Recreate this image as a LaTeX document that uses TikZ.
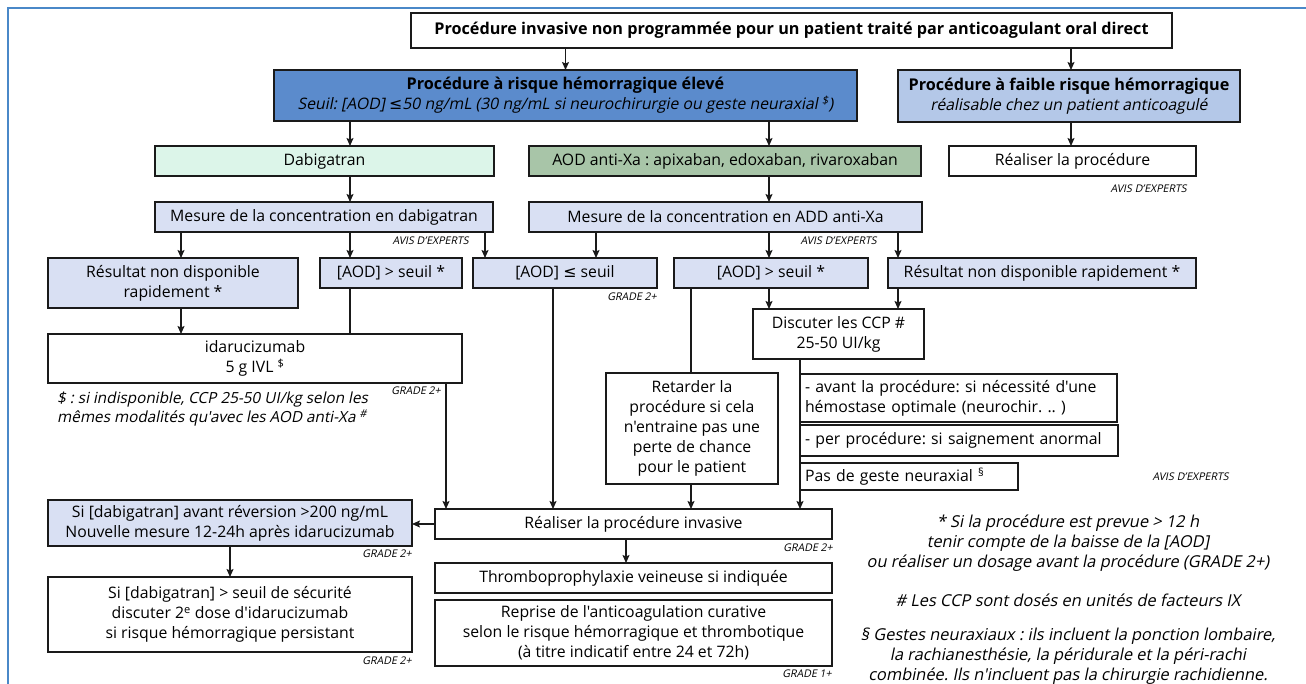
\documentclass[tikz,border=0pt]{standalone}
\usepackage{fontspec}
\setmainfont{Open Sans}[Ligatures=TeXOff, ItalicFont={Open Sans}, ItalicFeatures={FakeSlant=0.2}]
\newfontfamily\symfont{DejaVu Sans}
\usetikzlibrary{arrows.meta}

\definecolor{frameblue}{HTML}{4A88C8}
\definecolor{highblue}{HTML}{5B8BCC}
\definecolor{lowblue}{HTML}{B4C8E8}
\definecolor{lavender}{HTML}{D9E0F3}
\definecolor{mint}{HTML}{DCF5E9}
\definecolor{sage}{HTML}{A8C5A8}
\definecolor{ink}{HTML}{1A1A1A}

% box given by its corners: name, x1, y1, x2, y2, style, text
\newcommand\bx[7]{%
  \node[#6, minimum width={(#4)-(#2)}, minimum height={(#5)-(#3)}]
    (#1) at ({((#2)+(#4))/2},{((#3)+(#5))/2}) {#7};}
\newcommand\hd{\fontsize{16.2}{20}\selectfont\bfseries}

\tikzset{
  base/.style={draw=ink, line width=1.3pt, inner sep=2pt, outer sep=0pt,
    align=center, font=\fontsize{15.8}{20}\selectfont},
  plain/.style={base, fill=white},
  lav/.style={base, fill=lavender},
  hb/.style={base, fill=highblue},
  lb/.style={base, fill=lowblue},
  mintbox/.style={base, fill=mint},
  sagebox/.style={base, fill=sage},
  leftbox/.style={base, fill=white, align=left},
  arr/.style={draw=ink, line width=1.2pt, -{Stealth[length=8pt,width=7pt,inset=1.5pt]}},
  link/.style={draw=ink, line width=1.2pt},
  tag/.style={font=\fontsize{10.6}{11}\selectfont\itshape, anchor=east, inner sep=0pt},
  note/.style={font=\fontsize{16.4}{20}\selectfont\itshape, align=center, inner sep=0pt},
}

\begin{document}
\frenchspacing
\begin{tikzpicture}[x=1pt,y=-1pt]
\useasboundingbox (0,0) rectangle (1306,684);
\draw[frameblue, line width=1.6pt] (8,690) -- (8,8) -- (1310,8);

% columns used by the connectors
\coordinate (cA) at (181,0);
\coordinate (cB) at (350,0);
\coordinate (cC) at (485,0);
\coordinate (cD) at (446,0);
\coordinate (cE) at (553,0);
\coordinate (cF) at (596,0);
\coordinate (cG) at (691,0);
\coordinate (cH) at (769,0);
\coordinate (cI) at (898,0);
\coordinate (cJ) at (800,0);
\coordinate (cL) at (1071,0);
\coordinate (cN) at (626,0);

\bx{top}{411}{13}{1172}{48}{plain}{\hd Procédure invasive non programmée pour un patient traité par anticoagulant oral direct}
\bx{high}{274}{70}{857}{121}{hb}{{\hd Procédure à risque hémorragique élevé}\\{\itshape Seuil: [AOD] {\symfont ≤}50 ng/mL (30 ng/mL si neurochirurgie ou geste neuraxial \textsuperscript{\$})}}
\bx{low}{898}{70}{1240}{122}{lb}{{\hd Procédure à faible risque hémorragique}\\{\itshape réalisable chez un patient anticoagulé}}

\bx{dab}{155}{146}{494}{176}{mintbox}{Dabigatran}
\bx{axa}{529}{146}{921}{176}{sagebox}{AOD anti-Xa : apixaban, edoxaban, rivaroxaban}
\bx{lowdo}{949}{146}{1196}{176}{plain}{Réaliser la procédure}

\bx{mdab}{155}{202}{493}{232}{lav}{Mesure de la concentration en dabigatran}
\bx{maxa}{529}{202}{922}{232}{lav}{Mesure de la concentration en ADD anti-Xa}

\bx{resL}{48}{258}{298}{308}{lav}{Résultat non disponible\\rapidement *}
\bx{supL}{320}{258}{462}{288}{lav}{[AOD] > seuil *}
\bx{leq}{473}{258}{657}{288}{lav}{[AOD] {\symfont ≤} seuil}
\bx{supR}{674}{258}{868}{288}{lav}{[AOD] > seuil *}
\bx{resR}{888}{258}{1196}{288}{lav}{Résultat non disponible rapidement *}

\bx{ida}{48}{334}{462}{383}{plain}{idarucizumab\\5 g IVL \textsuperscript{\$}}
\bx{disc}{753}{309}{924}{359}{plain}{Discuter les CCP \#\\25-50 UI/kg}
\bx{retard}{606}{373}{778}{484}{plain}{Retarder la\\procédure si cela\\n'entraine pas une\\perte de chance\\pour le patient}

\bx{avant}{800}{374}{1117}{422}{leftbox, text width=307pt}{- avant la procédure: si nécessité d'une\\hémostase optimale (neurochir. .. )}
\bx{per}{800}{425}{1118}{456}{leftbox, text width=308pt}{- per procédure: si saignement anormal}
\bx{pas}{800}{463}{1018}{490}{leftbox, text width=208pt}{Pas de geste neuraxial \textsuperscript{§}}

\bx{real}{435}{509}{832}{539}{plain}{Réaliser la procédure invasive}
\bx{siL}{48}{500}{412}{546}{lav}{Si [dabigatran] avant réversion >200 ng/mL\\Nouvelle mesure 12-24h après idarucizumab}
\bx{si2}{48}{577}{412}{652}{plain}{Si [dabigatran] > seuil de sécurité\\discuter 2\textsuperscript{e} dose d'idarucizumab\\si risque hémorragique persistant}
\bx{thrombo}{435}{563}{832}{593}{plain}{Thromboprophylaxie veineuse si indiquée}
\bx{reprise}{435}{600}{832}{666}{plain}{Reprise de l'anticoagulation curative\\selon le risque hémorragique et thrombotique\\(à titre indicatif entre 24 et 72h)}

% grades and expert opinions
\node[tag] (t1) at (1187,189) {AVIS D’EXPERTS};
\node[tag] (t2) at (469,241) {AVIS D’EXPERTS};
\node[tag] (t3) at (877,241) {AVIS D’EXPERTS};
\node[tag] (t4) at (657,297) {GRADE 2+};
\node[tag] (t5) at (441,391) {GRADE 2+};
\node[tag] (t6) at (1229,477) {AVIS D’EXPERTS};
\node[tag] (t7) at (833,548) {GRADE 2+};
\node[tag] (t8) at (412,554) {GRADE 2+};
\node[tag] (t9) at (412,661) {GRADE 2+};
\node[tag] (t10) at (832,674) {GRADE 1+};

% footnotes
\node[note, font=\fontsize{15.3}{19}\selectfont\itshape, align=left, anchor=west] (fnL) at (57,409) {\$ : si indisponible, CCP 25-50 UI/kg selon les\\mêmes modalités qu'avec les AOD anti-Xa \textsuperscript{\#}};
\node[note] (n1) at (1068,543) {* Si la procédure est prevue > 12 h\\tenir compte de la baisse de la [AOD]\\ou réaliser un dosage avant la procédure (GRADE 2+)};
\node[note] (n2) at (1068,600) {\# Les CCP sont dosés en unités de facteurs IX};
\node[note] (n3) at (1068,656) {§ Gestes neuraxiaux : ils incluent la ponction lombaire,\\la rachianesthésie, la péridurale et la péri-rachi\\combinée. Ils n'incluent pas la chirurgie rachidienne.};

% connectors
\draw[arr] (top.south -| high.north) -- (high.north);
\draw[arr] (top.south -| cL) -- (low.north -| cL);
\draw[arr] (high.south -| cB) -- (dab.north -| cB);
\draw[arr] (high.south -| cH) -- (axa.north -| cH);
\draw[arr] (low.south -| cL) -- (lowdo.north -| cL);
\draw[arr] (dab.south -| cB) -- (mdab.north -| cB);
\draw[arr] (axa.south -| cH) -- (maxa.north -| cH);
\draw[arr] (mdab.south -| cA) -- (resL.north -| cA);
\draw[arr] (mdab.south -| cB) -- (supL.north -| cB);
\draw[arr] (mdab.south -| cC) -- (leq.north -| cC);
\draw[arr] (maxa.south -| cF) -- (leq.north -| cF);
\draw[arr] (maxa.south -| cH) -- (supR.north -| cH);
\draw[arr] (maxa.south -| cI) -- (resR.north -| cI);
\draw[arr] (resL.south -| cA) -- (ida.north -| cA);
\draw[link] (supL.south -| cB) -- (ida.north -| cB);
\draw[arr] (ida.south -| cD) -- (real.north -| cD);
\draw[arr] (leq.south -| cE) -- (real.north -| cE);
\draw[link] (supR.south -| cG) -- (retard.north -| cG);
\draw[arr] (retard.south -| cG) -- (real.north -| cG);
\draw[arr] (supR.south -| cH) -- (disc.north -| cH);
\draw[arr] (resR.south -| cI) -- (disc.north -| cI);
\draw[arr] (disc.south -| cJ) -- (real.north -| cJ);
\draw[arr] (real.west) -- (real.west -| siL.east);
\draw[arr] (siL.south) -- (si2.north);
\draw[arr] (real.south -| cN) -- (thrombo.north -| cN);
\end{tikzpicture}
\end{document}
